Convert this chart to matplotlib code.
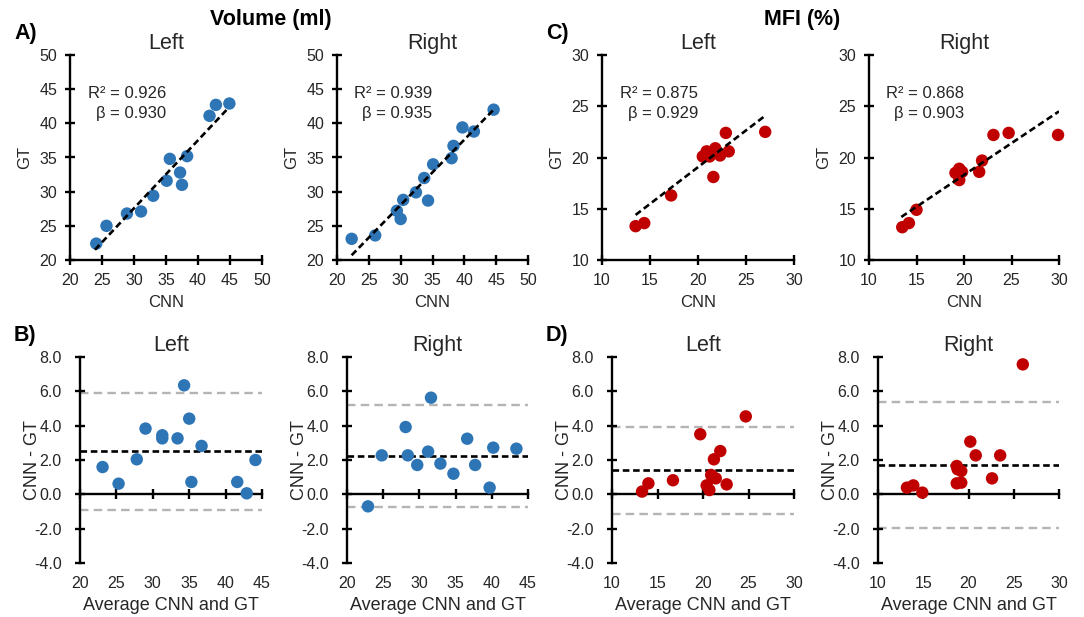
import matplotlib.pyplot as plt
from matplotlib.ticker import FormatStrFormatter

plt.rcParams['font.family'] = ['Liberation Sans', 'DejaVu Sans']

W, H = 1084, 617
BLUE = '#2E75B6'
RED = '#C00000'
GREY = '#B4B4B4'
TXT = '#262626'

# ---- Volume (ml): CNN vs GT
vol_left_cnn = [24.1, 25.7, 28.9, 31.1, 33.0, 35.1, 35.6, 37.2, 37.5, 38.3, 41.8, 42.8, 44.9]
vol_left_gt = [22.4, 25.0, 26.8, 27.1, 29.4, 31.6, 34.8, 32.8, 31.0, 35.2, 41.1, 42.7, 42.9]
vol_left_fit_x = [23.9, 44.8]
vol_left_fit_y = [21.5, 42.3]

vol_right_cnn = [22.3, 26.0, 29.4, 30.0, 30.4, 32.4, 33.7, 34.3, 35.1, 38.0, 38.3, 39.7, 41.5, 44.6]
vol_right_gt = [23.1, 23.6, 27.2, 26.0, 28.8, 29.9, 32.0, 28.7, 34.0, 34.9, 36.7, 39.4, 38.8, 42.0]
vol_right_fit_x = [22.3, 44.6]
vol_right_fit_y = [20.7, 42.0]

# ---- MFI (%): CNN vs GT
mfi_left_cnn = [13.5, 14.4, 17.2, 20.5, 20.9, 21.2, 21.6, 21.6, 21.8, 22.3, 22.9, 23.2, 27.0]
mfi_left_gt = [13.3, 13.6, 16.3, 20.1, 20.6, 20.1, 20.6, 18.1, 20.9, 20.2, 22.4, 20.6, 22.5]
mfi_left_fit_x = [13.5, 27.1]
mfi_left_fit_y = [14.4, 24.15]

mfi_right_cnn = [13.5, 14.2, 15.0, 19.1, 19.5, 19.5, 19.8, 21.6, 21.9, 23.1, 24.7, 29.9]
mfi_right_gt = [13.2, 13.6, 14.9, 18.5, 18.9, 17.8, 18.6, 18.6, 19.7, 22.2, 22.4, 22.2]
mfi_right_fit_x = [13.4, 30.0]
mfi_right_fit_y = [14.2, 24.5]

# ---- Bland-Altman: average vs difference
ba_vol_left_avg = [23.1, 25.3, 27.8, 29.0, 31.3, 31.3, 33.4, 34.3, 35.0, 35.3, 36.7, 41.6, 42.9, 44.1]
ba_vol_left_diff = [1.59, 0.62, 2.04, 3.83, 3.44, 3.26, 3.26, 6.35, 4.41, 0.72, 2.82, 0.72, 0.06, 2.0]
ba_vol_left_lines = [2.54, 5.92, -0.89]  # mean, upper, lower

ba_vol_right_avg = [22.9, 24.8, 28.1, 28.4, 29.7, 31.2, 31.6, 32.9, 34.7, 36.6, 37.7, 39.7, 40.2, 43.4]
ba_vol_right_diff = [-0.70, 2.27, 3.92, 2.27, 1.71, 2.49, 5.63, 1.79, 1.20, 3.24, 1.71, 0.39, 2.72, 2.66]
ba_vol_right_lines = [2.23, 5.20, -0.72]

ba_mfi_left_avg = [13.3, 14.0, 16.7, 19.7, 20.4, 20.7, 20.9, 21.1, 21.2, 21.4, 21.9, 22.6, 24.7]
ba_mfi_left_diff = [0.16, 0.64, 0.82, 3.50, 0.52, 0.25, 1.13, 0.97, 2.04, 0.93, 2.52, 0.58, 4.54]
ba_mfi_left_lines = [1.40, 3.94, -1.17]

ba_mfi_right_avg = [13.2, 13.9, 14.9, 18.7, 18.8, 19.2, 18.7, 19.2, 20.2, 20.8, 22.6, 23.5, 26.0]
ba_mfi_right_diff = [0.39, 0.52, 0.10, 1.65, 1.46, 1.36, 0.64, 0.68, 3.07, 2.27, 0.93, 2.27, 7.57]
ba_mfi_right_lines = [1.71, 5.40, -1.98]

fig = plt.figure(figsize=(W / 100, H / 100), dpi=100)


def px_axes(x0, y0, x1, y1):
    return fig.add_axes([x0 / W, 1 - y1 / H, (x1 - x0) / W, (y1 - y0) / H])


def base_style(ax):
    for s in ('top', 'right'):
        ax.spines[s].set_visible(False)
    for s in ('left', 'bottom'):
        ax.spines[s].set_linewidth(1.7)
    ax.tick_params(direction='inout', length=6.5, width=1.7, labelsize=11.5, labelcolor=TXT)


def scatter_panel(box, x, y, fx, fy, color, lim, ticks, side, r2, beta):
    ax = px_axes(*box)
    base_style(ax)
    ax.scatter(x, y, s=80, color=color, edgecolors='none', zorder=3, clip_on=False)
    ax.plot(fx, fy, color='black', lw=1.9, dashes=(2.5, 1.4), zorder=4)
    ax.set_xlim(lim)
    ax.set_ylim(lim)
    ax.set_xticks(ticks)
    ax.set_yticks(ticks)
    ax.tick_params(axis='x', pad=6)
    ax.tick_params(axis='y', pad=6)
    ax.set_xlabel('CNN', fontsize=12, color=TXT, labelpad=5)
    ax.set_ylabel('GT', fontsize=12, color=TXT, labelpad=5)
    ax.set_title(side, fontsize=15.5, color=TXT, pad=4.5)
    ax.text(0.5, 0.81, f'R² = {r2}', transform=ax.transAxes, ha='right', va='center',
            fontsize=12, color=TXT)
    ax.text(0.5, 0.713, f'β = {beta}', transform=ax.transAxes, ha='right', va='center',
            fontsize=12, color=TXT)
    return ax


def ba_panel(box, x, d, lines, color, xlim, xticks, side):
    ax = px_axes(*box)
    base_style(ax)
    mean, upper, lower = lines
    ax.axhline(upper, color=GREY, lw=1.7, dashes=(3.6, 2.2), zorder=1)
    ax.axhline(lower, color=GREY, lw=1.7, dashes=(3.6, 2.2), zorder=1)
    ax.axhline(mean, color='black', lw=1.9, dashes=(2.5, 1.4), zorder=2)
    ax.scatter(x, d, s=80, color=color, edgecolors='none', zorder=3, clip_on=False)
    ax.set_xlim(xlim)
    ax.set_ylim(-4, 8)
    ax.set_yticks([-4, -2, 0, 2, 4, 6, 8])
    ax.yaxis.set_major_formatter(FormatStrFormatter('%.1f'))
    ax.tick_params(axis='y', pad=10)
    ax.spines['bottom'].set_position(('data', 0))
    ax.set_xticks(xticks)
    ax.tick_params(axis='x', labelbottom=False)
    sec = ax.secondary_xaxis('bottom')
    sec.set_xticks(xticks)
    sec.spines['bottom'].set_visible(False)
    sec.tick_params(length=0, labelsize=11.5, labelcolor=TXT, pad=9)
    sec.set_xlabel('Average CNN and GT', fontsize=13, color=TXT, labelpad=5)
    ax.set_ylabel('CNN - GT', fontsize=13, color=TXT, labelpad=-5.5)
    ax.set_title(side, fontsize=15.5, color=TXT, pad=4.5)
    return ax


vol_ticks = [20, 25, 30, 35, 40, 45, 50]
mfi_ticks = [10, 15, 20, 25, 30]

scatter_panel((70, 55, 262, 260), vol_left_cnn, vol_left_gt, vol_left_fit_x, vol_left_fit_y,
              BLUE, (20, 50), vol_ticks, 'Left', '0.926', '0.930')
scatter_panel((337, 55, 528, 260), vol_right_cnn, vol_right_gt, vol_right_fit_x, vol_right_fit_y,
              BLUE, (20, 50), vol_ticks, 'Right', '0.939', '0.935')
scatter_panel((602, 55, 794, 260), mfi_left_cnn, mfi_left_gt, mfi_left_fit_x, mfi_left_fit_y,
              RED, (10, 30), mfi_ticks, 'Left', '0.875', '0.929')
scatter_panel((869, 55, 1059, 260), mfi_right_cnn, mfi_right_gt, mfi_right_fit_x, mfi_right_fit_y,
              RED, (10, 30), mfi_ticks, 'Right', '0.868', '0.903')

ba_panel((80, 357, 262, 563), ba_vol_left_avg, ba_vol_left_diff, ba_vol_left_lines,
         BLUE, (20, 45), [20, 25, 30, 35, 40, 45], 'Left')
ba_panel((347, 357, 528, 563), ba_vol_right_avg, ba_vol_right_diff, ba_vol_right_lines,
         BLUE, (20, 45), [20, 25, 30, 35, 40, 45], 'Right')
ba_panel((612, 357, 794, 563), ba_mfi_left_avg, ba_mfi_left_diff, ba_mfi_left_lines,
         RED, (10, 30), mfi_ticks, 'Left')
ba_panel((878, 357, 1059, 563), ba_mfi_right_avg, ba_mfi_right_diff, ba_mfi_right_lines,
         RED, (10, 30), mfi_ticks, 'Right')

# headers and panel letters
fig.text(271 / W, 1 - 20 / H, 'Volume (ml)', ha='center', va='center', fontsize=15.5, fontweight='bold')
fig.text(802 / W, 1 - 20 / H, 'MFI (%)', ha='center', va='center', fontsize=15.5, fontweight='bold')
for lbl, x, y in [('A)', 14, 33), ('B)', 14, 335), ('C)', 546, 33), ('D)', 546, 335)]:
    fig.text(x / W, 1 - y / H, lbl, ha='left', va='center', fontsize=15.5, fontweight='bold')

fig.savefig('out.png', dpi=100)
